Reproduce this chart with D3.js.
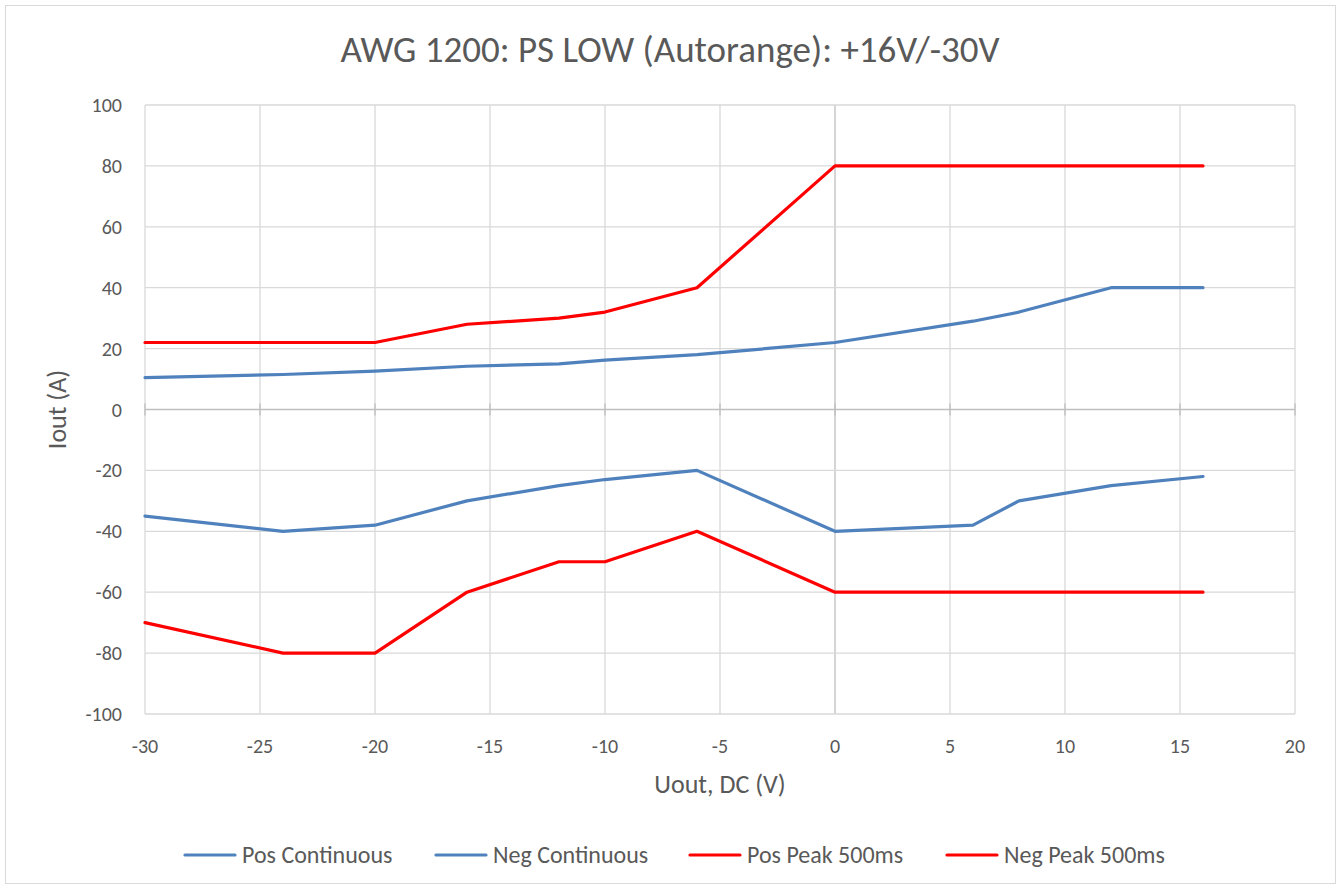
<!DOCTYPE html>
<html>
<head>
<meta charset="utf-8">
<script src="https://cdn.jsdelivr.net/npm/d3@7"></script>
<style>
  body { margin: 0; background: #fff; }
  text { font-family: Carlito, Calibri, Lato, "Open Sans", sans-serif; fill: #595959; }
</style>
</head>
<body>
<div id="chart"></div>
<script>
// Voltage steps (V)
const voltages = [-30, -24, -20, -16, -12, -10, -6, 0, 6, 8, 12, 16];

// Current limits (A), one value per voltage step
const posContinuous = [10.5, 11.5, 12.6, 14.2, 15, 16.2, 18, 22, 29, 32, 40, 40];
const negContinuous = [-35, -40, -38, -30, -25, -23, -20, -40, -38, -30, -25, -22];
const posPeak = [22, 22, 22, 28, 30, 32, 40, 80, 80, 80, 80, 80];
const negPeak = [-70, -80, -80, -60, -50, -50, -40, -60, -60, -60, -60, -60];

const seriesNames = ["Pos Continuous", "Neg Continuous", "Pos Peak 500ms", "Neg Peak 500ms"];
const seriesColors = ["#4f81bd", "#4f81bd", "#ff0000", "#ff0000"];

const xTicks = [-30, -25, -20, -15, -10, -5, 0, 5, 10, 15, 20];
const yTicks = [-100, -80, -60, -40, -20, 0, 20, 40, 60, 80, 100];

const width = 1341;
const height = 889;
const margin = { top: 105, right: 46, bottom: 175, left: 145 };

const svg = d3.select("#chart")
    .append("svg")
    .attr("width", width)
    .attr("height", height);

// chart border
svg.append("rect")
    .attr("x", 5.5).attr("y", 5.5)
    .attr("width", width - 11).attr("height", height - 11)
    .attr("fill", "#fff")
    .attr("stroke", "#d9d9d9");

const x = d3.scaleLinear().domain([-30, 20]).range([margin.left, width - margin.right]);
const y = d3.scaleLinear().domain([-100, 100]).range([height - margin.bottom, margin.top]);

// gridlines
svg.append("g")
    .selectAll("line")
    .data(xTicks)
    .enter()
    .append("line")
    .attr("x1", (d) => x(d)).attr("x2", (d) => x(d))
    .attr("y1", y(-100)).attr("y2", y(100))
    .attr("stroke", (d) => d === 0 ? "#bfbfbf" : "#d9d9d9")
    .attr("stroke-width", 1.3);

svg.append("g")
    .selectAll("line")
    .data(yTicks)
    .enter()
    .append("line")
    .attr("x1", x(-30)).attr("x2", x(20))
    .attr("y1", (d) => y(d)).attr("y2", (d) => y(d))
    .attr("stroke", (d) => d === 0 ? "#bfbfbf" : "#d9d9d9")
    .attr("stroke-width", 1.3);

// small tick marks on the zero axis
svg.append("g")
    .selectAll("line")
    .data(xTicks)
    .enter()
    .append("line")
    .attr("x1", (d) => x(d)).attr("x2", (d) => x(d))
    .attr("y1", y(0) - 6).attr("y2", y(0) + 6)
    .attr("stroke", "#bfbfbf")
    .attr("stroke-width", 1.3);

// axis tick labels
svg.append("g")
    .selectAll("text")
    .data(xTicks)
    .enter()
    .append("text")
    .attr("x", (d) => x(d))
    .attr("y", y(-100) + 39)
    .attr("text-anchor", "middle")
    .style("font-size", "20px")
    .text((d) => d);

svg.append("g")
    .selectAll("text")
    .data(yTicks)
    .enter()
    .append("text")
    .attr("x", margin.left - 23)
    .attr("y", (d) => y(d) + 7)
    .attr("text-anchor", "end")
    .style("font-size", "20px")
    .text((d) => d);

// titles
svg.append("text")
    .attr("x", 670).attr("y", 62)
    .attr("text-anchor", "middle")
    .style("font-size", "37px")
    .text("AWG 1200: PS LOW (Autorange): +16V/-30V");

svg.append("text")
    .attr("x", x(-5)).attr("y", 793)
    .attr("text-anchor", "middle")
    .style("font-size", "26px")
    .text("Uout, DC (V)");

svg.append("text")
    .attr("transform", `translate(66, ${y(0)}) rotate(-90)`)
    .attr("text-anchor", "middle")
    .style("font-size", "26px")
    .text("Iout (A)");

// lines
const allSeries = [posContinuous, negContinuous, posPeak, negPeak];
const line = d3.line()
    .x((d, i) => x(voltages[i]))
    .y((d) => y(d));

svg.append("g")
    .selectAll("path")
    .data(allSeries)
    .enter()
    .append("path")
    .attr("d", line)
    .attr("fill", "none")
    .attr("stroke", (d, i) => seriesColors[i])
    .attr("stroke-width", 3.2)
    .attr("stroke-linejoin", "round")
    .attr("stroke-linecap", "round");

// legend
const legendX = [185, 436, 690, 947];
const legend = svg.append("g")
    .selectAll("g")
    .data(seriesNames)
    .enter()
    .append("g")
    .attr("transform", (d, i) => `translate(${legendX[i]}, 855)`);

legend.append("line")
    .attr("x1", 0).attr("x2", 50)
    .attr("stroke", (d, i) => seriesColors[i])
    .attr("stroke-width", 3.2)
    .attr("stroke-linecap", "round");

legend.append("text")
    .attr("x", 57).attr("y", 8)
    .style("font-size", "24px")
    .text((d) => d);
</script>
</body>
</html>
